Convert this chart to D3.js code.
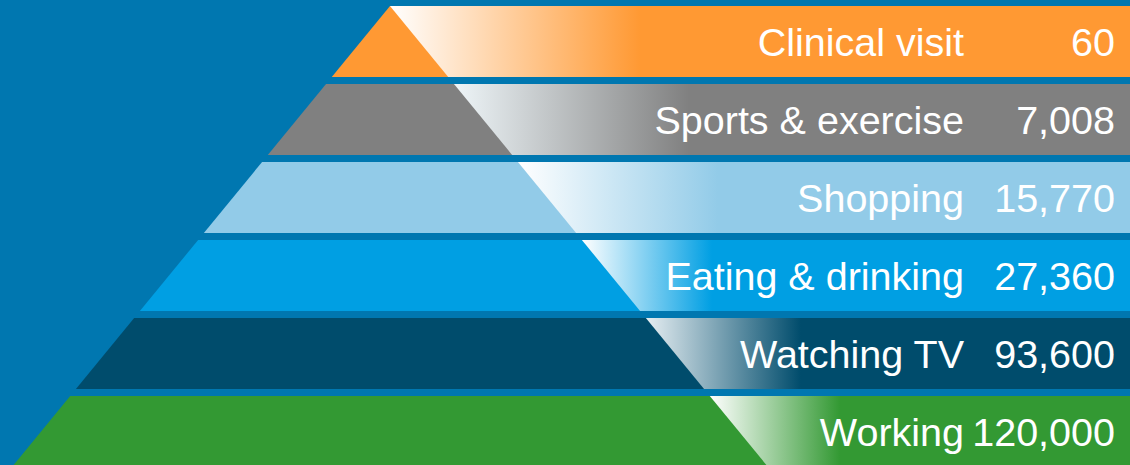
<!DOCTYPE html>
<html>
<head>
<meta charset="utf-8">
<script src="https://cdn.jsdelivr.net/npm/d3@7"></script>
<style>
  html, body { margin: 0; padding: 0; background: #0077b0; }
  svg { display: block; }
</style>
</head>
<body>
<div id="chart"></div>
<script>
// data, top of the pyramid first
var activities = ["Clinical visit", "Sports & exercise", "Shopping", "Eating & drinking", "Watching TV", "Working"];
var counts = [60, 7008, 15770, 27360, 93600, 120000];
var valueLabels = ["60", "7,008", "15,770", "27,360", "93,600", "120,000"];

// styling
var bandColors = ["#ff9933", "#808080", "#92cbe8", "#009fe3", "#004c6c", "#339933"];
var fadeStarts = ["#ffffff", "#eef5f8", "#ffffff", "#ffffff", "#e6eef2", "#ffffff"];
var fadeWidths = [250, 235, 200, 130, 155, 130];

var width = 1130, height = 465;
var apexX = 390, apexY = 6, slope = 0.82;

var svg = d3.select("#chart")
  .append("svg")
  .attr("width", width)
  .attr("height", height);

svg.append("rect")
  .attr("width", width)
  .attr("height", height)
  .attr("fill", "#0077b0");

// vertical position of each band
var y = d3.scaleBand()
  .domain(activities)
  .range([apexY, apexY + 6 * 78 - 7])
  .paddingInner(7 / 78)
  .paddingOuter(0);

// half-width of the pyramid at a given height
var spread = d3.scaleLinear()
  .domain([apexY, apexY + 100])
  .range([0, 100 * slope]);

function leftX(yy) { return apexX - spread(yy); }
function rightX(yy) { return apexX + spread(yy); }

var defs = svg.append("defs");

var rows = activities.map(function(a, i) {
  return { name: a, count: counts[i], label: valueLabels[i], color: bandColors[i], start: fadeStarts[i], fade: fadeWidths[i] };
});

rows.forEach(function(d, i) {
  var y0 = y(d.name);
  var g = defs.append("linearGradient")
    .attr("id", "fade" + i)
    .attr("gradientUnits", "userSpaceOnUse")
    .attr("x1", rightX(y0)).attr("x2", rightX(y0) + d.fade)
    .attr("y1", 0).attr("y2", 0);
  g.append("stop").attr("offset", 0).attr("stop-color", d.start);
  g.append("stop").attr("offset", 1).attr("stop-color", d.color);
});

var band = svg.selectAll("g.band")
  .data(rows)
  .enter().append("g")
  .attr("class", "band");

// solid part of the pyramid
band.append("path")
  .attr("fill", function(d) { return d.color; })
  .attr("d", function(d) {
    var y0 = y(d.name), y1 = y0 + y.bandwidth();
    return "M" + leftX(y0) + "," + y0 + "L" + width + "," + y0 +
      "L" + width + "," + y1 + "L" + leftX(y1) + "," + y1 + "Z";
  });

// faded part right of the diagonal
band.append("path")
  .attr("fill", function(d, i) { return "url(#fade" + i + ")"; })
  .attr("d", function(d) {
    var y0 = y(d.name), y1 = y0 + y.bandwidth();
    return "M" + rightX(y0) + "," + y0 + "L" + width + "," + y0 +
      "L" + width + "," + y1 + "L" + rightX(y1) + "," + y1 + "Z";
  });

band.append("text")
  .attr("x", 964)
  .attr("y", function(d) { return y(d.name) + y.bandwidth() / 2 + 14; })
  .attr("text-anchor", "end")
  .attr("font-family", "Liberation Sans, Arial, sans-serif")
  .attr("font-size", "39.5px")
  .attr("fill", "#ffffff")
  .text(function(d) { return d.name; });

band.append("text")
  .attr("x", 1115)
  .attr("y", function(d) { return y(d.name) + y.bandwidth() / 2 + 14; })
  .attr("text-anchor", "end")
  .attr("font-family", "Liberation Sans, Arial, sans-serif")
  .attr("font-size", "39.5px")
  .attr("fill", "#ffffff")
  .text(function(d) { return d.label; });
</script>
</body>
</html>
